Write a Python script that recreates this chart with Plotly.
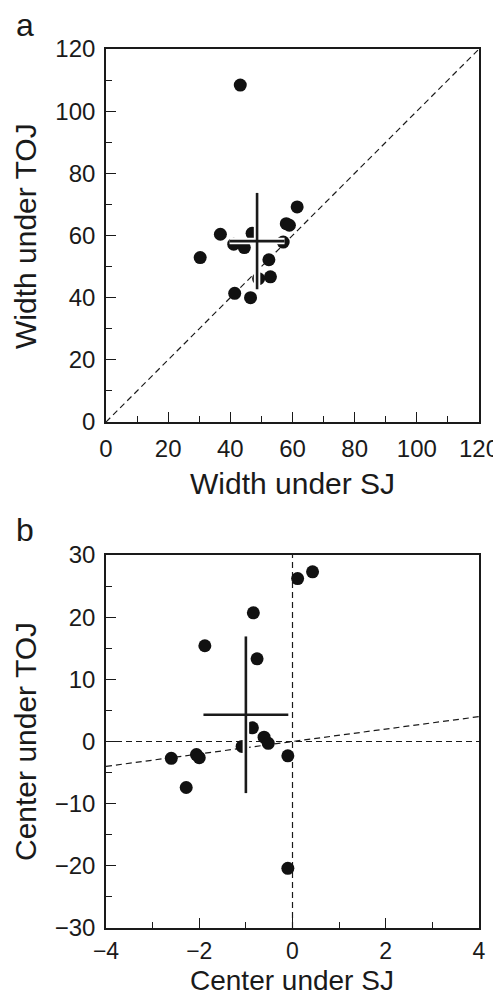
import plotly.graph_objects as go

# Panel a: width estimates
width_sj = [30.3, 36.8, 41.1, 44.5, 47.0, 57.0, 58.0, 59.0, 61.5, 52.4, 52.9, 49.1, 41.4, 46.5, 43.2]
width_toj = [52.9, 60.4, 57.2, 56.1, 60.7, 57.9, 63.8, 63.3, 69.2, 52.2, 46.7, 46.1, 41.4, 40.0, 108.4]
width_mean = [48.6, 58.2]   # (SJ, TOJ)
width_sd = [8.85, 15.5]     # (SJ, TOJ)

# Panel b: center estimates
center_sj = [0.11, 0.43, -0.84, -1.88, -0.76, -0.86, -0.61, -0.52, -1.08, -0.10, -2.06, -2.00, -2.60, -2.28, -0.10]
center_toj = [26.2, 27.3, 20.7, 15.4, 13.3, 2.2, 0.7, -0.3, -0.8, -2.3, -2.1, -2.6, -2.7, -7.4, -20.4]
center_mean = [-1.0, 4.3]
center_sd = [0.91, 12.6]

# page body has an 8px margin: figure occupies the window minus that offset
OFF = 8
W, H = 501 - OFF, 999 - OFF
INK = "#1a1a1a"
FONT = "Liberation Sans, Arial, Helvetica, sans-serif"

fig = go.Figure()

dash = dict(color=INK, width=1.2, dash="6px,4px")
fig.add_trace(go.Scatter(x=[0, 120], y=[0, 120], mode="lines", xaxis="x", yaxis="y",
                         line=dash, hoverinfo="skip"))
fig.add_trace(go.Scatter(x=[-4, 4], y=[0, 0], mode="lines", xaxis="x2", yaxis="y2",
                         line=dash, hoverinfo="skip"))
fig.add_trace(go.Scatter(x=[0, 0], y=[-30, 30], mode="lines", xaxis="x2", yaxis="y2",
                         line=dash, hoverinfo="skip"))
fig.add_trace(go.Scatter(x=[-4, 4], y=[-4, 4], mode="lines", xaxis="x2", yaxis="y2",
                         line=dash, hoverinfo="skip"))

fig.add_trace(go.Scatter(x=width_sj, y=width_toj, mode="markers", xaxis="x", yaxis="y",
                         marker=dict(size=13, color="#111111", line=dict(width=0))))
fig.add_trace(go.Scatter(x=center_sj, y=center_toj, mode="markers", xaxis="x2", yaxis="y2",
                         marker=dict(size=13, color="#111111", line=dict(width=0))))

def cross(mean, sd, xa, ya):
    mx, my = mean
    sx, sy = sd
    for color, w in (("white", 6.5), (INK, 2.6)):
        fig.add_trace(go.Scatter(x=[mx - sx, mx + sx], y=[my, my], mode="lines", xaxis=xa, yaxis=ya,
                                 line=dict(color=color, width=w), hoverinfo="skip"))
        fig.add_trace(go.Scatter(x=[mx, mx], y=[my - sy, my + sy], mode="lines", xaxis=xa, yaxis=ya,
                                 line=dict(color=color, width=w), hoverinfo="skip"))

cross(width_mean, width_sd, "x", "y")
cross(center_mean, center_sd, "x2", "y2")

def px(x):
    return (x - OFF) / W

def py(y):
    return 1 - (y - OFF) / H

dom_x = [px(106), px(479)]
dom_a = [py(422), py(49)]
dom_b = [py(928), py(555)]

def ax(rng, dtick, minor_dtick, domain, anchor, tick0=0, size=24, standoff=4):
    return dict(range=rng, domain=domain, anchor=anchor, tick0=tick0, dtick=dtick,
                ticks="inside", ticklen=10, tickwidth=1.4, tickcolor=INK,
                minor=dict(ticks="inside", ticklen=6, tickwidth=1.4, tickcolor=INK,
                           dtick=minor_dtick, tick0=tick0, showgrid=False),
                showline=True, linecolor=INK, linewidth=1.6, mirror=True,
                showgrid=False, zeroline=False, automargin=False,
                tickfont=dict(family=FONT, size=size, color=INK), ticklabelstandoff=standoff)

fig.update_layout(
    width=W, height=H, template="none",
    margin=dict(l=0, r=0, t=0, b=0),
    paper_bgcolor="white", plot_bgcolor="white",
    showlegend=False,
    xaxis=ax([0, 120], 20, 10, dom_x, "y"),
    yaxis=ax([0, 120], 20, 10, dom_a, "x"),
    xaxis2=ax([-4, 4], 2, 1, dom_x, "y2", size=23, standoff=2),
    yaxis2=ax([-30, 30], 10, 5, dom_b, "x2"),
)

def ann(text, x, y, size, angle=0, xanchor="center"):
    fig.add_annotation(text=text, x=px(x), y=py(y), xref="paper", yref="paper",
                       showarrow=False, textangle=angle, xanchor=xanchor, yanchor="middle",
                       borderpad=0, font=dict(family=FONT, size=size, color=INK))

ann("Width under SJ", 292, 483, 30)
ann("Width under TOJ", 25, 236, 30, angle=-90)
ann("Center under SJ", 292, 980, 28)
ann("Center under TOJ", 25, 742, 30, angle=-90)
ann("a", 15, 25, 32, xanchor="left")
ann("b", 15, 530, 32, xanchor="left")

fig.write_html("out.html")
